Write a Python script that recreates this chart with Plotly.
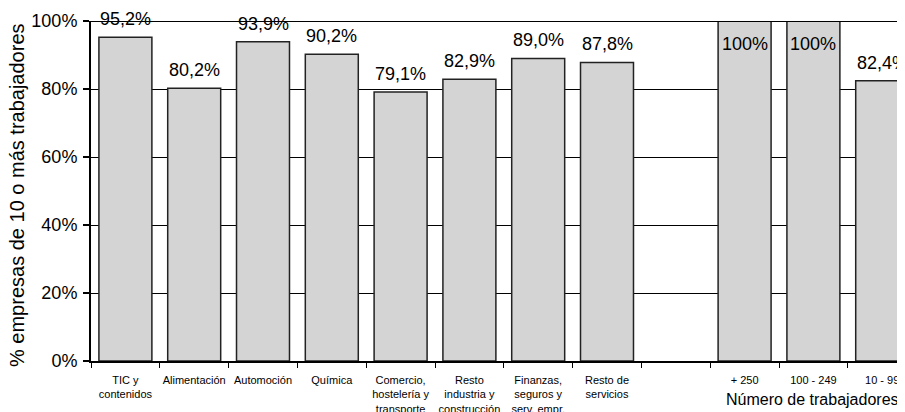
import plotly.graph_objects as go

categories = ["TIC y<br>contenidos", "Alimentación", "Automoción", "Química",
              "Comercio,<br>hostelería y<br>transporte",
              "Resto<br>industria y<br>construcción",
              "Finanzas,<br>seguros y<br>serv. empr.",
              "Resto de<br>servicios", " ", "+ 250", "100 - 249", "10 - 99"]
values = [95.2, 80.2, 93.9, 90.2, 79.1, 82.9, 89.0, 87.8, None, 100, 100, 82.4]
labels = ["95,2%", "80,2%", "93,9%", "90,2%", "79,1%", "82,9%", "89,0%", "87,8%",
          "", "100%", "100%", "82,4%"]
y_ticks = [0, 20, 40, 60, 80, 100]
y_tick_labels = ["0%", "20%", "40%", "60%", "80%", "100%"]
y_title = "% empresas de 10 o más trabajadores"
x_title = "Número de trabajadores"

FONT = "Liberation Sans, Arial, Helvetica, sans-serif"

fig = go.Figure()
fig.add_trace(go.Bar(
    x=categories, y=values,
    marker=dict(color="#d4d4d4", line=dict(color="#222222", width=1.5)),
    width=0.77,
    hoverinfo="skip",
))

annotations = []
for c, v, t in zip(categories, values, labels):
    if v is None or not t:
        continue
    if v >= 100:
        annotations.append(dict(x=c, y=v, xref="x", yref="y", text=t, showarrow=False,
                                yanchor="top", yshift=-11,
                                font=dict(family=FONT, size=18, color="black")))
    else:
        annotations.append(dict(x=c, y=v, xref="x", yref="y", text=t, showarrow=False,
                                yanchor="bottom", yshift=6,
                                font=dict(family=FONT, size=18, color="black")))

# page has an 8px body margin; the figure is laid out in its own coordinates
W, H = 897, 404
L, T, B = 83, 13, 51
plot_w = W - L
plot_h = H - T - B
plot_bottom = H - B

annotations.append(dict(x=(9 - L) / plot_w, y=(plot_bottom - 187) / plot_h,
                        xref="paper", yref="paper",
                        text=y_title, textangle=-90, showarrow=False,
                        xanchor="center", yanchor="middle",
                        font=dict(family=FONT, size=20, color="black")))
annotations.append(dict(x=(716 - L) / plot_w, y=(plot_bottom - 391) / plot_h,
                        xref="paper", yref="paper",
                        text=x_title, showarrow=False, xanchor="left", yanchor="middle",
                        font=dict(family=FONT, size=16, color="black")))

cat_w = 68.8
fig.update_layout(
    width=W, height=H,
    margin=dict(l=L, r=0, t=T, b=B, pad=0, autoexpand=False),
    paper_bgcolor="white", plot_bgcolor="white",
    showlegend=False,
    font=dict(family=FONT, color="black"),
    annotations=annotations,
    shapes=[dict(type="line", xref="paper", yref="y", x0=0, x1=1, y0=100, y1=100,
                 line=dict(color="black", width=2), layer="above")],
    xaxis=dict(
        type="category",
        range=[-0.5, -0.5 + plot_w / cat_w],
        tickson="boundaries", ticks="outside", ticklen=5, tickwidth=1, tickcolor="black",
        showline=True, linecolor="black", linewidth=1.5,
        showgrid=False, zeroline=False,
        tickfont=dict(family=FONT, size=11, color="black"),
        ticklabelstandoff=8,
        tickangle=0, automargin=False,
    ),
    yaxis=dict(
        range=[0, 100], tickvals=y_ticks, ticktext=y_tick_labels,
        ticks="outside", ticklen=6, tickwidth=1.5, tickcolor="black",
        showline=True, linecolor="black", linewidth=2,
        showgrid=True, gridcolor="black", gridwidth=1,
        zeroline=False,
        tickfont=dict(family=FONT, size=18, color="black"),
        ticklabelstandoff=2,
        automargin=False,
    ),
)

fig.write_html("out.html")
